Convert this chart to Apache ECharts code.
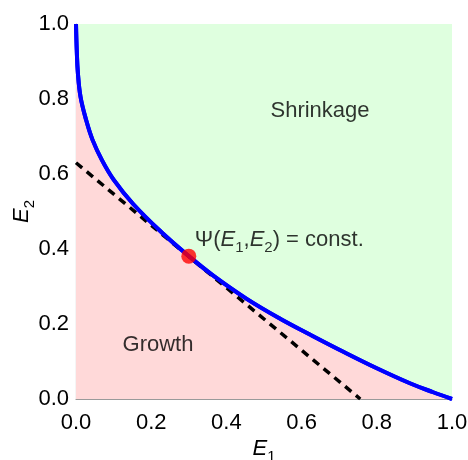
<!DOCTYPE html>
<html><head><meta charset="utf-8">
<script src="https://cdn.jsdelivr.net/npm/echarts@6/dist/echarts.min.js"></script>
<style>html,body{margin:0;padding:0;background:#fff}#c{width:468px;height:460px}</style>
</head><body><div id="c"></div>
<script>
// Data
const xTicks = [0, 0.2, 0.4, 0.6, 0.8, 1.0];
const yTicks = [0, 0.2, 0.4, 0.6, 0.8, 1.0];
const curveE1 = [0, 0.002, 0.005, 0.012, 0.027, 0.044, 0.069, 0.100, 0.152, 0.226, 0.300, 0.365, 0.454, 0.543, 0.622, 0.711, 0.800, 0.888, 0.950, 1.0];
const curveE2 = [1.0, 0.93, 0.87, 0.806, 0.744, 0.691, 0.637, 0.585, 0.520, 0.446, 0.381, 0.329, 0.267, 0.214, 0.172, 0.126, 0.082, 0.042, 0.018, 0.0];
const tangentE1 = [0, 0.756];
const tangentE2 = [0.63, 0];
const pointE1 = [0.30];
const pointE2 = [0.381];
const regionLabels = ['Shrinkage', 'Growth'];
const regionLabelE1 = [0.649, 0.218];
const regionLabelE2 = [0.768, 0.145];
const psiLabelPos = [0.316, 0.403];

const FONT = 'Liberation Sans, Arial, sans-serif';
const curve = curveE1.map((x, i) => [x, curveE2[i]]);
const tangent = tangentE1.map((x, i) => [x, tangentE2[i]]);
const point = pointE1.map((x, i) => [x, pointE2[i]]);
const regions = regionLabels.map((t, i) => ({ value: [regionLabelE1[i], regionLabelE2[i]], name: t }));

const richE = {
  i: { fontFamily: FONT, fontSize: 22, fontStyle: 'italic', color: '#000', lineHeight: 22, verticalAlign: 'top' },
  s: { fontFamily: FONT, fontSize: 15, color: '#000', lineHeight: 38 },
  n: { fontFamily: FONT, fontSize: 22, color: '#000', lineHeight: 22, verticalAlign: 'top' }
};

const chart = echarts.init(document.getElementById('c'), null, { renderer: 'canvas' });
chart.setOption({
  animation: false,
  backgroundColor: '#ffffff',
  grid: { left: 76, right: 16, top: 24, bottom: 61, show: true, backgroundColor: '#dfffdf', borderWidth: 0, containLabel: false, outerBoundsMode: 'none' },
  xAxis: {
    type: 'value', min: 0, max: 1, interval: 0.2,
    axisLine: { lineStyle: { color: '#9a9a9a', width: 1.2 } },
    axisTick: { show: false }, splitLine: { show: false },
    axisLabel: { fontFamily: FONT, fontSize: 22, color: '#000', margin: 13, formatter: v => v.toFixed(1) },
    name: '{i|E}{s|1}', nameLocation: 'middle', nameGap: 39, nameMoveOverlap: false,
    nameTextStyle: { rich: richE }
  },
  yAxis: {
    type: 'value', min: 0, max: 1, interval: 0.2,
    axisLine: { show: true, lineStyle: { color: '#9a9a9a', width: 1.2 } },
    axisTick: { show: false }, splitLine: { show: false },
    axisLabel: { fontFamily: FONT, fontSize: 22, color: '#000', margin: 7, formatter: v => v.toFixed(1) },
    name: '{i|E}{s|2}', nameLocation: 'middle', nameGap: 27, nameRotate: 90, nameMoveOverlap: false,
    nameTextStyle: { rich: richE }
  },
  series: [
    {
      type: 'line', data: curve, smooth: 0.4, symbol: 'none', z: 2,
      lineStyle: { color: '#0000ff', width: 4 },
      areaStyle: { color: '#ffd9d9', opacity: 1 }
    },
    {
      type: 'line', data: tangent, symbol: 'none', z: 3,
      lineStyle: { color: '#000', width: 3.5, type: [8, 6] }
    },
    {
      type: 'line', data: curve, smooth: 0.4, symbol: 'none', z: 4,
      lineStyle: { color: '#0000ff', width: 4 }
    },
    {
      type: 'scatter', data: point, symbolSize: 15, z: 5,
      itemStyle: { color: '#ff0000' }
    },
    {
      type: 'scatter', data: regions, symbolSize: 0, z: 6,
      label: { show: true, position: 'inside', formatter: p => p.name, fontFamily: FONT, fontSize: 22, color: '#000' }
    },
    {
      type: 'scatter', data: [psiLabelPos], symbolSize: 0, z: 6,
      label: {
        show: true, position: 'right', distance: 0,
        formatter: '{n|Ψ(}{i|E}{s|1}{n|,}{i|E}{s|2}{n|) = const.}',
        rich: richE
      }
    }
  ]
});
</script></body></html>
